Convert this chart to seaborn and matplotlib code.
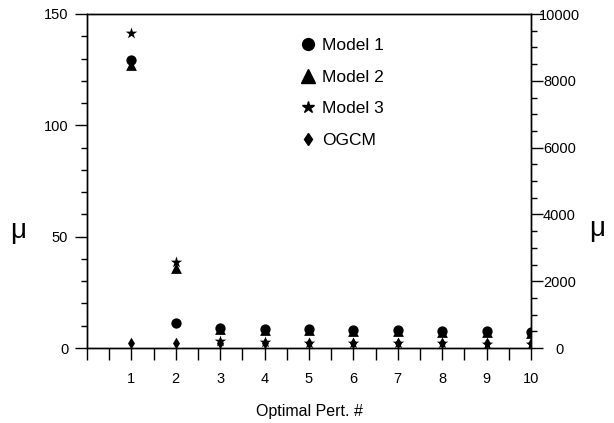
import matplotlib
matplotlib.use("Agg")
import matplotlib.pyplot as plt
import seaborn as sns
import pandas as pd
import numpy as np
from matplotlib.ticker import MultipleLocator, FixedLocator
from matplotlib.lines import Line2D

sns.set_theme(style="white")
plt.rcParams['font.family'] = ['Liberation Sans', 'DejaVu Sans']
plt.rcParams['text.color'] = 'black'
plt.rcParams['axes.labelcolor'] = 'black'
plt.rcParams['xtick.color'] = 'black'
plt.rcParams['ytick.color'] = 'black'

pert = [1, 2, 3, 4, 5, 6, 7, 8, 9, 10]
model1 = [129.5, 11.4, 9.0, 8.6, 8.4, 8.2, 8.0, 7.8, 7.6, 7.4]
model2 = [127.0, 36.0, 8.5, 8.1, 7.9, 7.7, 7.5, 7.3, 7.1, 6.9]
model3 = [141.5, 38.5, 3.3, 2.9, 2.3, 2.3, 2.2, 2.1, 2.0, 2.0]
ogcm = [145, 145, 150, 150, 145, 145, 145, 145, 145, 145]  # right axis

df = pd.DataFrame({
    "pert": pert * 3,
    "mu": model1 + model2 + model3,
    "model": ["Model 1"] * 10 + ["Model 2"] * 10 + ["Model 3"] * 10,
})
df_o = pd.DataFrame({"pert": pert, "mu": ogcm, "model": ["OGCM"] * 10})

fig = plt.figure(figsize=(6.14, 4.23), dpi=100)
ax = fig.add_axes([87/614, 1 - 348/423, (531-87)/614, (348-14)/423])
ax2 = ax.twinx()

sizes = {"Model 1": 55, "Model 2": 60, "Model 3": 75}
markers = {"Model 1": "o", "Model 2": "^", "Model 3": "*"}
for m in ["Model 2", "Model 1", "Model 3"]:
    sub = df[df.model == m]
    sns.scatterplot(data=sub, x="pert", y="mu", marker=markers[m], s=sizes[m],
                    color="black", edgecolor="black", linewidth=0, ax=ax, zorder=3)
sns.scatterplot(data=df_o, x="pert", y="mu", marker="d", s=35, color="black",
                edgecolor="black", linewidth=0, ax=ax2, zorder=4)

ax.set_xlim(0, 10)
ax.set_ylim(0, 150)
ax2.set_ylim(0, 10000)

ax.xaxis.set_major_locator(FixedLocator(pert))
ax.xaxis.set_minor_locator(MultipleLocator(0.5))
ax.yaxis.set_major_locator(MultipleLocator(50))
ax.yaxis.set_minor_locator(MultipleLocator(10))
ax2.yaxis.set_major_locator(MultipleLocator(2000))
ax2.yaxis.set_minor_locator(MultipleLocator(500))

for a in (ax, ax2):
    for s in a.spines.values():
        s.set_color("black")
        s.set_linewidth(1.0)
    a.set_facecolor("none")

ax.tick_params(axis="x", which="both", direction="out", length=8.5, width=1,
               color="black", labelcolor="black", labelsize=10.5, pad=9, bottom=True)
ax.tick_params(axis="y", which="major", direction="out", length=8.5, width=1,
               color="black", labelcolor="black", labelsize=10.5, pad=5, left=True)
ax.tick_params(axis="y", which="minor", direction="out", length=4.5, width=1,
               color="black", left=True)
ax2.tick_params(axis="y", which="major", direction="out", length=8.5, width=1,
                color="black", labelcolor="black", labelsize=10.5, pad=12, right=True)
ax2.tick_params(axis="y", which="minor", direction="out", length=4.5, width=1,
                color="black", right=True)
for lab in ax2.get_yticklabels():
    lab.set_horizontalalignment("center")

ax.set_xlabel("Optimal Pert. #", fontsize=11.5, labelpad=13, color="black")
ax.set_ylabel("μ", fontsize=20, rotation=0, labelpad=22, va="center", color="black")
ax2.set_ylabel("μ", fontsize=20, rotation=0, labelpad=22, va="center", color="black")
ax.yaxis.set_label_coords(-0.155, 0.35)
ax2.yaxis.set_label_coords(1.15, 0.355)

handles = [
    Line2D([], [], ls="", marker="o", ms=8.5, color="black"),
    Line2D([], [], ls="", marker="^", ms=9.5, color="black"),
    Line2D([], [], ls="", marker="*", ms=9, color="black"),
    Line2D([], [], ls="", marker="d", ms=6.5, color="black"),
]
labels = ["Model 1", "Model 2", "Model 3", "OGCM"]
leg = ax.legend(handles, labels, loc="upper left", bbox_to_anchor=(0.44, 0.975),
                frameon=False, fontsize=12.5, labelspacing=0.95, handletextpad=0.2,
                handlelength=1.2)
for t in leg.get_texts():
    t.set_color("black")
if ax2.get_legend():
    ax2.get_legend().remove()

fig.savefig("out.png", dpi=100)
